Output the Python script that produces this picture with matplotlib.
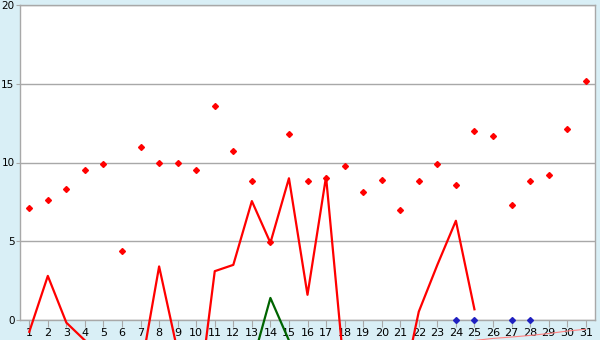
import numpy as np
import matplotlib.pyplot as plt

days = list(range(1, 32))

# red diamonds
points = [7.1, 7.6, 8.3, 9.5, 9.9, 4.4, 11.0, 10.0, 10.0, 9.5,
          13.6, 10.7, 8.8, 4.95, 11.8, 8.8, 9.0, 9.8, 8.1, 8.9,
          7.0, 8.8, 9.9, 8.6, 12.0, 11.7, 7.3, 8.8, 9.2, 12.1, 15.2]

# red line (runs off the bottom where negative)
red_line = [-0.75, 2.8, -0.17, -1.3, -2.0, -2.5, -3.3, 3.4, -2.0, -6.2,
            3.1, 3.5, 7.55, 4.9, 9.0, 1.6, 9.1, -3.5, -4.0, -4.5,
            -5.0, 0.53, 3.5, 6.3, 0.68, np.nan, np.nan, np.nan, np.nan, np.nan, np.nan]

# green line
green_line = [np.nan] * 12 + [-2.85, 1.4, -1.3] + [np.nan] * 16

# thin pink line at the end
pink_days = [25, 26, 27, 28, 29, 30, 31]
pink_line = [-1.3, -1.17, -1.08, -0.98, -0.86, -0.70, -0.59]

# blue markers sitting on zero
blue_days = [24, 25, 27, 28]
blue_vals = [0, 0, 0, 0]

bg = "#d9eff6"
fig = plt.figure(figsize=(6, 3.4), dpi=100, facecolor=bg)
ax = fig.add_axes([20 / 600, 20 / 340, 575 / 600, 315 / 340])
ax.set_facecolor("white")

ax.set_xlim(0.5, 31.5)
ax.set_ylim(0, 20)
ax.set_yticks([0, 5, 10, 15, 20])
ax.set_xticks(days)
ax.grid(axis="y", color="#a8a8a8", linewidth=1)
ax.set_axisbelow(True)

for s in ax.spines.values():
    s.set_color("#a8a8a8")
    s.set_linewidth(1)

ax.tick_params(axis="y", length=3, color="#a8a8a8", labelsize=7.5, pad=1)
ax.tick_params(axis="x", length=5, color="#a8a8a8", labelsize=8, pad=1)

ax.plot(days, red_line, color="red", linewidth=1.6, clip_on=False, zorder=3)
ax.plot(days, green_line, color="#006400", linewidth=1.6, clip_on=False, zorder=3)
ax.plot(pink_days, pink_line, color="#ff8080", linewidth=0.8, clip_on=False, zorder=3)
ax.plot(days, points, linestyle="none", marker="D", markersize=3, color="red", zorder=4)
ax.plot(blue_days, blue_vals, linestyle="none", marker="D", markersize=3, color="#2020c0",
        clip_on=False, zorder=4)

fig.savefig("out.png", dpi=100, facecolor=bg)
